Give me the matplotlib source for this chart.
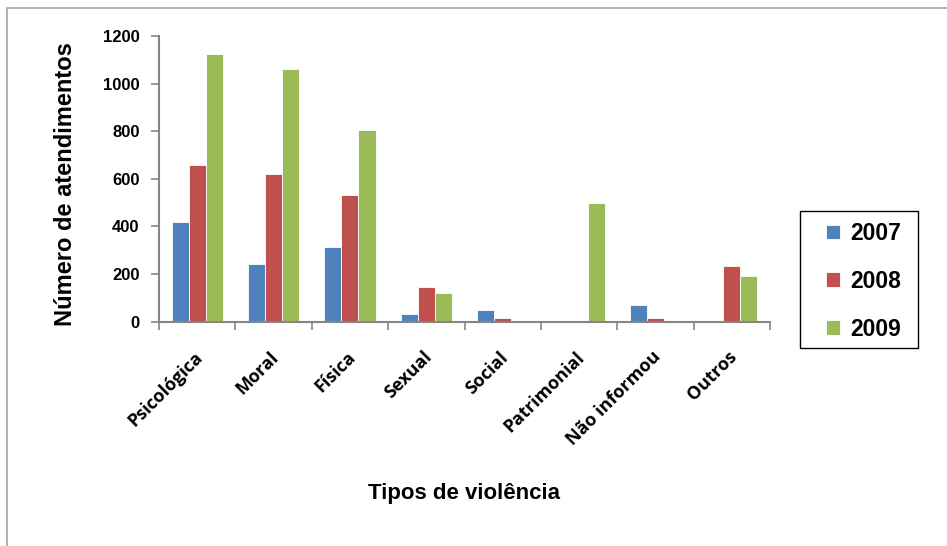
import numpy as np
import matplotlib.pyplot as plt
from matplotlib.patches import Rectangle

tipos = ["Psicológica", "Moral", "Física", "Sexual", "Social",
         "Patrimonial", "Não informou", "Outros"]
anos = ["2007", "2008", "2009"]
v2007 = [420, 240, 315, 32, 49, 0, 70, 0]
v2008 = [660, 620, 530, 147, 15, 0, 15, 234]
v2009 = [1125, 1060, 805, 119, 0, 500, 0, 190]
cores = ["#4F81BD", "#C0504D", "#9BBB59"]

plt.rcParams["font.family"] = ["Liberation Sans", "DejaVu Sans"]

W, H = 947, 546
fig = plt.figure(figsize=(W / 100, H / 100), dpi=100)
ax = fig.add_axes([0.168, 0.411, 0.645, 0.523])

x = np.arange(len(tipos))
w = 0.223
for i, (serie, cor, ano) in enumerate(zip([v2007, v2008, v2009], cores, anos)):
    ax.bar(x + (i - 1) * w, serie, width=w, color=cor, edgecolor="white",
           linewidth=0.6, label=ano, zorder=2)

ax.set_xlim(-0.5, len(tipos) - 0.5)
ax.set_ylim(0, 1200)
ax.set_yticks(np.arange(0, 1201, 200))
# category boundaries carry the tick marks, the labels sit on the centres
ax.set_xticks(np.arange(-0.5, len(tipos)))
ax.set_xticklabels([])
ax.set_xticks(x - 0.05, minor=True)
ax.set_xticklabels(tipos, minor=True, rotation=45, ha="right",
                   rotation_mode="anchor", fontsize=13, fontweight="bold",
                   family=["Open Sans", "DejaVu Sans"])

for s in ["top", "right"]:
    ax.spines[s].set_visible(False)
for s in ["left", "bottom"]:
    ax.spines[s].set_color("#868686")
    ax.spines[s].set_linewidth(1.5)
ax.tick_params(axis="x", which="major", length=6, width=1.2, color="#868686")
ax.tick_params(axis="x", which="minor", length=0, pad=19)
ax.tick_params(axis="y", length=6, width=1.2, color="#868686", pad=8,
               labelsize=12)
for t in ax.get_yticklabels():
    t.set_fontweight("bold")

fig.text(0.069, 0.663, "Número de atendimentos", rotation=90, ha="center",
         va="center", fontsize=17, fontweight="bold")
fig.text(0.49, 0.097, "Tipos de violência", ha="center", va="center",
         fontsize=16, fontweight="bold")

# legend entries without frame; the box is drawn separately so it can be wider
leg = ax.legend(loc="upper left", bbox_to_anchor=(826 / W, 1 - 222 / H),
                bbox_transform=fig.transFigure, frameon=False,
                prop={"weight": "bold", "size": 16.5},
                handlelength=0.6, handleheight=0.6, handletextpad=0.45,
                labelspacing=1.08, borderpad=0, borderaxespad=0)
fig.patches.append(Rectangle((800 / W, 1 - 348 / H), 118 / W, 137 / H,
                             transform=fig.transFigure, fill=False,
                             edgecolor="black", linewidth=1.0))

# outer chart-area border
fig.patches.append(Rectangle((7 / W, -0.05), 1.05, 1 - 8 / H + 0.05,
                             transform=fig.transFigure, fill=False,
                             edgecolor="#A6A6A6", linewidth=1.2))

fig.savefig("out.png", dpi=100)
